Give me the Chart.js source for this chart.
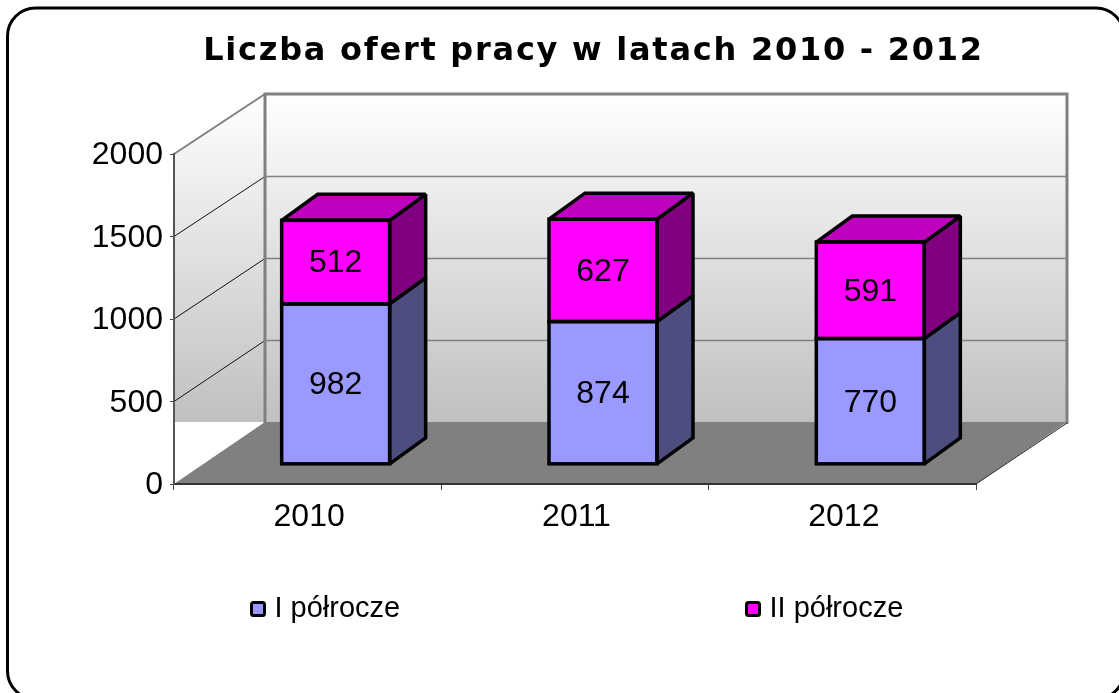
<!DOCTYPE html>
<html><head><meta charset="utf-8">
<style>html,body{margin:0;padding:0;background:#fff}#w{width:1119px;height:693px}canvas{display:block}</style>
<script src="https://cdn.jsdelivr.net/npm/chart.js@4"></script>
</head><body><div id="w"><canvas id="c" width="1119" height="693"></canvas></div>
<script>
const titleText = 'Liczba ofert pracy w latach 2010 - 2012';
const categories = ['2010', '2011', '2012'];
const seriesNames = ['I półrocze', 'II półrocze'];
const firstHalf = [982, 874, 770];
const secondHalf = [512, 627, 591];
const yMax = 2000;
const yStep = 500;

const FONT = '"Liberation Sans", Arial, sans-serif';
const WALL = {dx:91, dy:-62, k:328/330};   // back wall projection
const BAR = {dx:28, base:464.3, k:0.9897, ddx:36, ddy:-26};

const scene = {
  id:'scene',
  afterLayout(chart){
    const tb = chart.titleBlock;
    tb.left = 101; tb.right = 1086;
    if(!tb._spaced){
      tb._spaced = true;
      const d = tb.draw;
      tb.draw = function(){
        const c = this.ctx; c.letterSpacing='1.75px'; d.call(this); c.letterSpacing='0px';
      };
    }
  },
  beforeDraw(chart){
    const {ctx, scales:{y}} = chart;
    const a = chart.chartArea, W = WALL;
    const wallY = v => a.bottom + W.dy + (y.getPixelForValue(v) - a.bottom) * W.k;
    const wTop = wallY(yMax), wBot = wallY(0);
    const bl = a.left + W.dx, br = a.right + W.dx;
    ctx.save();
    // frame
    ctx.fillStyle='#fff'; ctx.fillRect(0,0,chart.width,chart.height);
    ctx.beginPath(); ctx.roundRect(7.5,8,1116.5,691,28);
    ctx.lineWidth=3; ctx.strokeStyle='#000'; ctx.stroke();
    // walls
    const g = ctx.createLinearGradient(0,wTop,0,wBot);
    g.addColorStop(0,'#ffffff'); g.addColorStop(1,'#c0c0c0');
    ctx.fillStyle=g;
    ctx.fillRect(bl,wTop,br-bl,wBot-wTop);
    ctx.beginPath();
    ctx.moveTo(a.left,y.getPixelForValue(yMax)); ctx.lineTo(bl,wTop); ctx.lineTo(bl,wBot); ctx.lineTo(a.left,wBot); ctx.closePath();
    ctx.fill();
    // floor
    ctx.fillStyle='#808080';
    ctx.beginPath();
    ctx.moveTo(a.left,a.bottom); ctx.lineTo(bl,wBot); ctx.lineTo(br,wBot); ctx.lineTo(a.right,a.bottom); ctx.closePath();
    ctx.fill();
    // grid lines
    for(let v=yStep;v<yMax;v+=yStep){
      const yw=Math.round(wallY(v))+0.5;
      ctx.strokeStyle='#808080'; ctx.lineWidth=1.5;
      ctx.beginPath(); ctx.moveTo(bl,yw); ctx.lineTo(br,yw); ctx.stroke();
      ctx.strokeStyle='#111'; ctx.lineWidth=1;
      ctx.beginPath(); ctx.moveTo(a.left,y.getPixelForValue(v)); ctx.lineTo(bl,yw); ctx.stroke();
    }
    // wall edges
    ctx.strokeStyle='#808080'; ctx.lineWidth=3;
    ctx.beginPath(); ctx.moveTo(bl,wBot+1); ctx.lineTo(bl,wTop); ctx.lineTo(br,wTop); ctx.lineTo(br,wBot+2); ctx.stroke();
    ctx.lineWidth=2;
    ctx.beginPath(); ctx.moveTo(a.left,y.getPixelForValue(yMax)); ctx.lineTo(bl,wTop); ctx.stroke();
    ctx.strokeStyle='#222'; ctx.lineWidth=1;
    ctx.beginPath(); ctx.moveTo(a.right,a.bottom); ctx.lineTo(br,wBot+1); ctx.stroke();
    ctx.restore();
  },
  beforeDatasetsDraw(chart){
    const {ctx} = chart, a = chart.chartArea;
    ctx.save();
    ctx.translate(BAR.dx, BAR.base - a.bottom*BAR.k);
    ctx.scale(1,BAR.k);
  },
  afterDatasetsDraw(chart){
    const {ctx} = chart, a = chart.chartArea;
    ctx.restore();
    const mapY = p => BAR.base + (p - a.bottom)*BAR.k;
    const shade = [['#4d4d80','#4d4d80'],['#800080','#bf00bf']];
    ctx.save();
    ctx.lineJoin='miter'; ctx.miterLimit=2; ctx.lineWidth=3.5; ctx.strokeStyle='#000';
    chart.data.datasets.forEach((ds,di)=>{
      chart.getDatasetMeta(di).data.forEach((bar,i)=>{
        const hw = bar.width/2;
        const l = bar.x-hw+BAR.dx, r = bar.x+hw+BAR.dx;
        const t = mapY(bar.y), b = mapY(bar.base);
        const dx = BAR.ddx, dy = BAR.ddy;
        ctx.fillStyle = shade[di][0];
        ctx.beginPath(); ctx.moveTo(r,t); ctx.lineTo(r+dx,t+dy); ctx.lineTo(r+dx,b+dy); ctx.lineTo(r,b); ctx.closePath(); ctx.fill(); ctx.stroke();
        if(di===chart.data.datasets.length-1){
          ctx.fillStyle = shade[di][1];
          ctx.beginPath(); ctx.moveTo(l,t); ctx.lineTo(l+dx,t+dy); ctx.lineTo(r+dx,t+dy); ctx.lineTo(r,t); ctx.closePath(); ctx.fill(); ctx.stroke();
        }
        ctx.strokeRect(l,t,r-l,b-t);
        ctx.fillStyle='#000'; ctx.font='32px '+FONT; ctx.textAlign='center'; ctx.textBaseline='middle';
        ctx.fillText(String(ds.data[i]),(l+r)/2,(t+b)/2+1.5);
      });
    });
    // legend
    const legendX = [251.5,746.5];
    ctx.textAlign='left'; ctx.textBaseline='alphabetic'; ctx.font='29px '+FONT;
    chart.data.datasets.forEach((ds,di)=>{
      const x=legendX[di], yc=609;
      ctx.fillStyle=ds.backgroundColor; ctx.beginPath(); ctx.roundRect(x,yc-6.5,13,13,2); ctx.fill();
      ctx.lineWidth=3; ctx.stroke();
      ctx.fillStyle='#000'; ctx.fillText(ds.label,x+23,617);
    });
    ctx.restore();
  }
};

new Chart(document.getElementById('c'),{
  type:'bar',
  plugins:[scene],
  data:{labels:categories,datasets:[
    {label:seriesNames[0],data:firstHalf,backgroundColor:'#9999ff',borderWidth:0},
    {label:seriesNames[1],data:secondHalf,backgroundColor:'#ff00ff',borderWidth:0}
  ]},
  options:{
    responsive:false,animation:false,
    layout:{padding:{left:0,right:143,top:0,bottom:0}},
    datasets:{bar:{barPercentage:0.404,categoryPercentage:1}},
    plugins:{
      legend:{display:false},tooltip:{enabled:false},
      title:{display:true,text:titleText,fullSize:false,color:'#000',
        font:{family:'"DejaVu Sans"',size:32,weight:'bold',lineHeight:1.2},
        padding:{top:32.5,bottom:83.1}}
    },
    scales:{
      x:{stacked:true,
        afterFit(s){s.height=693-484;},
        grid:{drawOnChartArea:false,drawTicks:true,tickLength:6,color:'#444',lineWidth:1},
        border:{display:true,color:'#333',width:2},
        ticks:{color:'#000',font:{family:FONT,size:32},padding:8,maxRotation:0,labelOffset:1.5}},
      y:{stacked:true,min:0,max:yMax,
        afterFit(s){s.width=174;},
        grid:{drawOnChartArea:false,drawTicks:true,tickLength:4,color:'#444',lineWidth:1},
        border:{display:true,color:'#555',width:2},
        ticks:{stepSize:yStep,color:'#000',font:{family:FONT,size:32},padding:7,labelOffset:1.5,callback:v=>String(v)}}
    }
  }
});
</script></body></html>
